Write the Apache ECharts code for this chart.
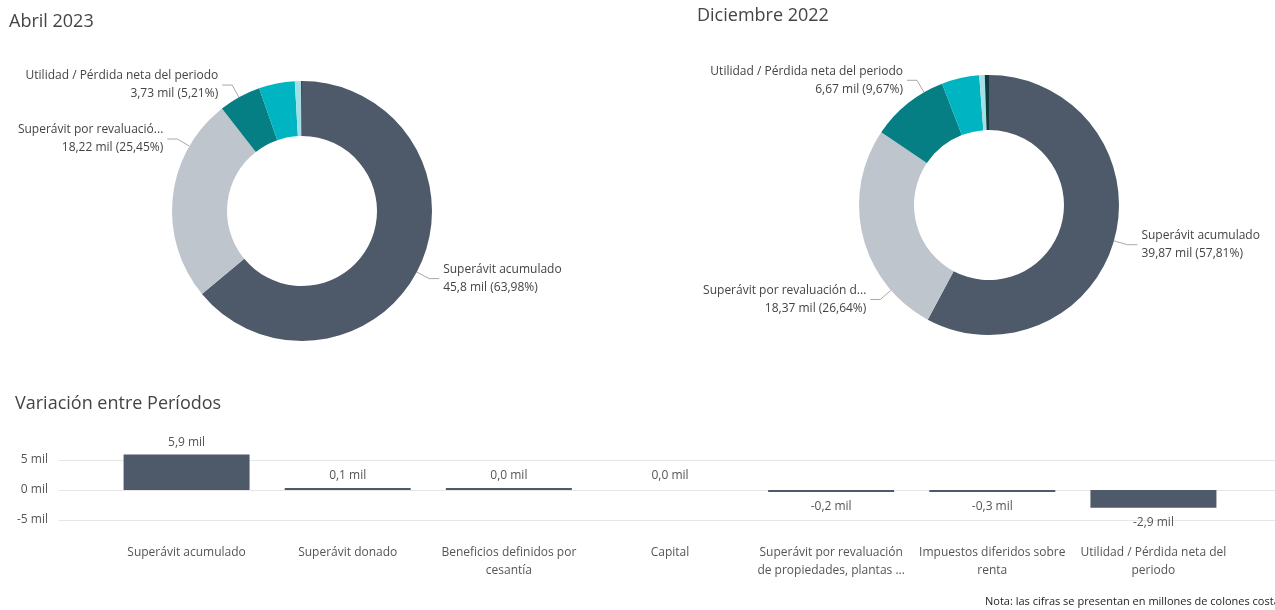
<!DOCTYPE html>
<html>
<head>
<meta charset="utf-8">
<script src="https://cdn.jsdelivr.net/npm/echarts@6/dist/echarts.min.js"></script>
<style>
  html, body { margin: 0; padding: 0; background: #fff; }
  #chart { width: 1275px; height: 610px; }
</style>
</head>
<body>
<div id="chart"></div>
<script>
// categorías de las donas (orden de mayor a menor)
const pieNames = [
  'Superávit acumulado',
  'Superávit por revaluación de propiedades, plantas y equipo',
  'Utilidad / Pérdida neta del periodo',
  'Impuestos diferidos sobre renta',
  'Superávit donado',
  'Beneficios definidos por cesantía'
];
const abrilValues = [45.8, 18.22, 3.73, 3.2, 0.55, 0.08];
const dicValues = [39.87, 18.372, 6.67, 3.23, 0.47, 0.358];
const pieColors = ['#4E5A69', '#BFC5CD', '#057E84', '#00B5C1', '#A3DFE4', '#0D3B3E'];

// variación entre períodos
const barLabels = [
  'Superávit acumulado',
  'Superávit donado',
  'Beneficios definidos por\ncesantía',
  'Capital',
  'Superávit por revaluación\nde propiedades, plantas ...',
  'Impuestos diferidos sobre\nrenta',
  'Utilidad / Pérdida neta del\nperiodo'
];
const barValues = [5.93, 0.1, 0.04, 0, -0.2, -0.3, -2.94];
const yTicks = [-5, 0, 5];

const FONT = '"Open Sans", "Noto Sans", sans-serif';
const TEXT = '#444';

// posición de las donas y ángulo donde sale cada etiqueta (grados desde arriba, sentido horario)
const centers = [[302, 211], [989, 205]];
const R_IN = 75, R_OUT = 130;
const labelAngles = [[118, 300, 331], [106, 229, 330]];
const nameMax = [24, 27];

const chart = echarts.init(document.getElementById('chart'));

function fmtMil(v) {
  return String(parseFloat(v.toFixed(2))).replace('.', ',');
}

function pieSeries(values, idx) {
  const total = values.reduce((a, b) => a + b, 0);
  return {
    type: 'pie',
    center: centers[idx],
    radius: [R_IN, R_OUT],
    startAngle: 90,
    clockwise: true,
    avoidLabelOverlap: false,
    silent: true,
    data: pieNames.map((n, i) => ({
      name: n,
      value: values[i],
      itemStyle: { color: pieColors[i] },
      label: { show: i < 3 },
      labelLine: { show: i < 3 }
    })),
    label: {
      color: TEXT,
      fontFamily: FONT,
      fontSize: 12,
      lineHeight: 18,
      formatter: p => {
        let name = p.name;
        if (name.length > 40) name = name.slice(0, nameMax[idx]) + '...';
        const pct = (p.value / total * 100).toFixed(2).replace('.', ',');
        return name + '\n' + fmtMil(p.value) + ' mil (' + pct + '%)';
      }
    },
    labelLine: { length: 14, length2: 10, lineStyle: { color: '#a8a8a8', width: 1 } },
    labelLayout: p => {
      const deg = labelAngles[idx][p.dataIndex];
      if (deg == null) return {};
      const a = deg * Math.PI / 180;
      const c = centers[idx];
      const dx = Math.sin(a), dy = -Math.cos(a);
      const p0 = [c[0] + dx * R_OUT, c[1] + dy * R_OUT];
      const p1 = [c[0] + dx * (R_OUT + 14), c[1] + dy * (R_OUT + 14)];
      const right = dx > 0;
      const p2 = [p1[0] + (right ? 10 : -10), p1[1]];
      return {
        x: p2[0] + (right ? 4 : -4),
        y: p2[1],
        align: right ? 'left' : 'right',
        verticalAlign: 'middle',
        labelLinePoints: [p0, p1, p2]
      };
    }
  };
}

const option = {
  animation: false,
  title: [
    { text: 'Abril 2023', left: 9, top: 13, padding: 0,
      textStyle: { color: TEXT, fontFamily: FONT, fontSize: 18, fontWeight: 'normal' } },
    { text: 'Diciembre 2022', left: 697, top: 7, padding: 0,
      textStyle: { color: TEXT, fontFamily: FONT, fontSize: 18, fontWeight: 'normal' } },
    { text: 'Variación entre Períodos', left: 15, top: 395, padding: 0,
      textStyle: { color: TEXT, fontFamily: FONT, fontSize: 18, fontWeight: 'normal' } }
  ],
  grid: [
    { left: 59, right: 0, top: 460, height: 60 },
    { left: 106, right: 41, top: 460, height: 60 }
  ],
  xAxis: [
    { gridIndex: 0, type: 'value', min: 0, max: 1, show: false },
    {
      gridIndex: 1, type: 'category', data: barLabels,
      axisLine: { show: false }, axisTick: { show: false },
      axisLabel: { interval: 0, margin: 24, color: '#555', fontFamily: FONT, fontSize: 12, lineHeight: 18 }
    }
  ],
  yAxis: [
    {
      gridIndex: 0, type: 'value', min: yTicks[0], max: yTicks[yTicks.length - 1], interval: 5,
      axisLine: { show: false }, axisTick: { show: false },
      axisLabel: { margin: 11, color: '#555', fontFamily: FONT, fontSize: 12, formatter: v => v + ' mil' },
      splitLine: { lineStyle: { color: '#e6e6e6', width: 1 } }
    },
    { gridIndex: 1, type: 'value', min: yTicks[0], max: yTicks[yTicks.length - 1], interval: 5, show: false }
  ],
  series: [
    pieSeries(abrilValues, 0),
    pieSeries(dicValues, 1),
    {
      type: 'bar',
      xAxisIndex: 1,
      yAxisIndex: 1,
      barWidth: 126,
      barMinHeight: 2,
      clip: false,
      silent: true,
      itemStyle: { color: '#4E5A69' },
      label: {
        show: true, color: '#555', fontFamily: FONT, fontSize: 12,
        formatter: p => p.value.toFixed(1).replace('.', ',') + ' mil'
      },
      data: barValues.map(v => ({
        value: v,
        itemStyle: v === 0 ? { color: 'rgba(0,0,0,0)' } : undefined,
        label: { position: v < 0 ? 'bottom' : 'top', distance: v < 0 ? 9 : 6 }
      }))
    }
  ],
  graphic: [{
    type: 'text', left: 985, top: 596,
    style: {
      text: 'Nota: las cifras se presentan en millones de colones costarricenses',
      fill: '#252423', font: '11px ' + FONT
    }
  }]
};

chart.setOption(option);
</script>
</body>
</html>
